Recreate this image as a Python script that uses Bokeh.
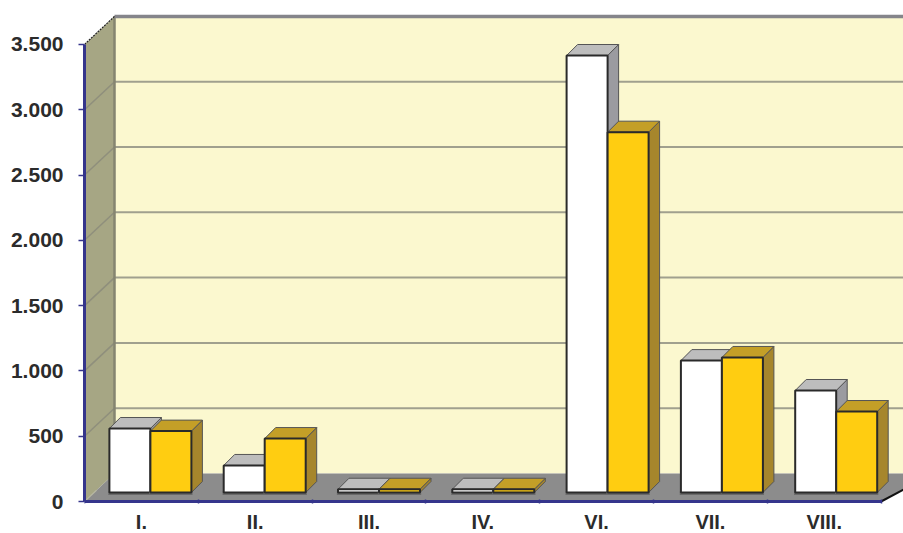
from bokeh.plotting import figure
from bokeh.models import Range1d, FixedTicker
from bokeh.embed import file_html
from bokeh.resources import INLINE

categories = ["I.", "II.", "III.", "IV.", "VI.", "VII.", "VIII."]
series_white = [490, 207, 25, 25, 3346, 1010, 781]
series_yellow = [470, 413, 25, 25, 2759, 1034, 620]
y_ticks = [0, 500, 1000, 1500, 2000, 2500, 3000, 3500]
y_labels = ["0", "500", "1.000", "1.500", "2.000", "2.500", "3.000", "3.500"]

# pixel scale of the two axes
PX_X = 1 / 113.8      # category units per pixel
PX_Y = 500 / 65.3     # value units per pixel
n = len(categories)

p = figure(width=903, height=533, output_backend="svg", toolbar_location=None,
           x_range=Range1d(0, 819 * PX_X), y_range=Range1d(-32 * PX_Y, 501 * PX_Y),
           min_border_left=84, min_border_bottom=0, min_border_top=0, min_border_right=0,
           outline_line_color=None, background_fill_color="white", border_fill_color="white")
p.grid.visible = False

wall_dx, wall_dy = 30 * PX_X, 28 * PX_Y
xmax = 819 * PX_X + 1

# back wall, side wall, floor
p.patch([wall_dx, xmax, xmax, wall_dx], [wall_dy, wall_dy, y_ticks[-1] + wall_dy, y_ticks[-1] + wall_dy],
        fill_color="#fbf8cf", line_color=None)
p.patch([0, wall_dx, wall_dx, 0], [0, wall_dy, y_ticks[-1] + wall_dy, y_ticks[-1]],
        fill_color="#a6a684", line_color=None)
p.patch([0, wall_dx, xmax, n + 0.2, n], [0, wall_dy, wall_dy, 12 * PX_Y, 0],
        fill_color="#8c8c8c", line_color=None)

# grid lines on wall and back
gt = y_ticks[1:-1]
p.segment([wall_dx] * len(gt), [t + wall_dy for t in gt], [xmax] * len(gt), [t + wall_dy for t in gt],
          line_color="#a0a08e", line_width=2)
p.segment([0] * len(gt), gt, [wall_dx] * len(gt), [t + wall_dy for t in gt],
          line_color="#8f8f7c", line_width=1.5)
p.segment([wall_dx], [wall_dy], [wall_dx], [y_ticks[-1] + wall_dy], line_color="#858570", line_width=2.5)
p.segment([wall_dx], [y_ticks[-1] + wall_dy], [xmax], [y_ticks[-1] + wall_dy], line_color="#85858a", line_width=3.5)
p.segment([0], [y_ticks[-1]], [wall_dx], [y_ticks[-1] + wall_dy], line_color="#222222", line_width=1.2, line_dash="2 1")
p.segment([0], [0], [wall_dx * 0.4], [wall_dy * 0.4], line_color="#b5b5a0", line_width=1.2)
p.segment([n], [0], [n + 0.2], [12 * PX_Y], line_color="#111111", line_width=2)

# bars
bw = 41 * PX_X
sx, sy = 9 * PX_X, 9 * PX_Y
dx, dy = 11 * PX_X, 11 * PX_Y
step = 114.3 * PX_X
OUT = "#2a2a2a"


def bars(values, side, face, top, side_col):
    for i, v in enumerate(values):
        if side == "left":
            x0 = 0.5 + i * step + sx - bw
        else:
            x0 = 0.5 + i * step + sx
        x1 = x0 + bw
        y0, y1 = sy, sy + v
        p.quad(left=[x0 - 0.01], right=[x1 + 0.01], bottom=[y0 - 2.5 * PX_Y], top=[y0 + 1 * PX_Y],
               fill_color="#6a6a6a", line_color=None)
        p.patch([x1, x1 + dx, x1 + dx, x1], [y0, y0 + dy, y1 + dy, y1],
                fill_color=side_col, line_color="#555555", line_width=1)
        p.patch([x0, x0 + dx, x1 + dx, x1], [y1, y1 + dy, y1 + dy, y1],
                fill_color=top, line_color="#555555", line_width=1)
        p.quad(left=[x0], right=[x1], bottom=[y0], top=[y1],
               fill_color=face, line_color=OUT, line_width=2)


bars(series_white, "left", "#ffffff", "#bdbdbd", "#9b9ba0")
bars(series_yellow, "right", "#ffcd11", "#c49f27", "#a6862c")

NAVY = "#35358c"
TXT = "#2b2b2b"
ax = p.yaxis[0]
ax.bounds = (0, 3500)
ax.ticker = FixedTicker(ticks=y_ticks)
ax.major_label_overrides = {t: l for t, l in zip(y_ticks, y_labels)}
ax.axis_line_color = NAVY
ax.axis_line_width = 3
ax.major_tick_line_color = NAVY
ax.major_tick_line_width = 1.5
ax.major_tick_in = 0
ax.major_tick_out = 6
ax.minor_tick_line_color = None
ax.major_label_standoff = 15
ax.major_label_text_font = "Liberation Sans"
ax.major_label_text_font_style = "bold"
ax.major_label_text_font_size = "21px"
ax.major_label_text_color = TXT

bx = p.xaxis[0]
bx.fixed_location = 0
bx.bounds = (0, n)
centers = [i + 0.5 for i in range(n)]
bx.ticker = FixedTicker(ticks=centers, minor_ticks=list(range(n + 1)))
bx.major_label_overrides = {c: l for c, l in zip(centers, categories)}
bx.axis_line_color = NAVY
bx.axis_line_width = 3
bx.major_tick_line_color = None
bx.major_tick_in = 0
bx.major_tick_out = 0
bx.minor_tick_line_color = NAVY
bx.minor_tick_line_width = 1.5
bx.minor_tick_in = 2
bx.minor_tick_out = 2
bx.major_label_standoff = 7
bx.major_label_text_font = "Liberation Sans"
bx.major_label_text_font_style = "bold"
bx.major_label_text_font_size = "20px"
bx.major_label_text_color = TXT

open("out.html", "w").write(file_html(p, INLINE))
